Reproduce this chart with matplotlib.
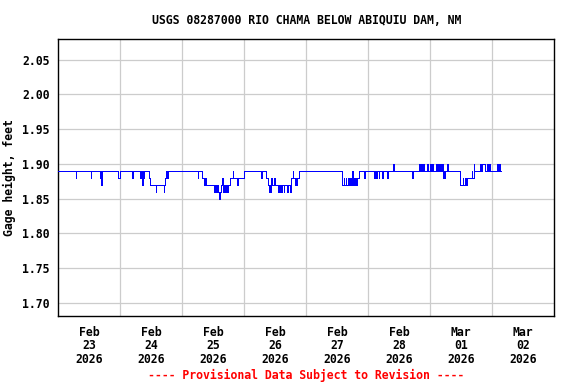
import matplotlib
matplotlib.use("Agg")
import matplotlib.pyplot as plt
import pandas as pd

# gage height, 15-min data, stored as change points (hours since Feb 23 00:00)
step_hours = [
    0, 6.75, 7.0, 12.5, 12.75, 16.0, 16.25, 16.5, 16.75, 17.0, 23.0, 23.75,
    28.5, 28.75, 31.75, 32.0, 32.5, 32.75, 33.0, 33.25,
    35.0, 35.5, 37.75, 38.0, 40.75, 41.0, 41.25, 41.75, 42.0, 42.5,
    54.0, 54.25, 55.75, 56.5, 56.75, 57.25,
    60.25, 60.5, 61.0, 61.25, 61.75, 62.25, 62.5, 63.0, 63.5, 63.75, 64.0, 64.25,
    64.5, 64.75, 65.25, 65.5, 65.75, 66.5, 67.5, 67.75, 69.0, 69.75, 72.0,
    78.5, 78.75, 80.5, 81.0, 81.5, 81.75, 82.0, 82.25, 82.5, 82.75, 83.5, 83.75,
    85.0, 85.25, 85.75, 86.0, 86.25, 86.5, 87.25, 87.5, 88.5, 88.75, 89.75, 90.0,
    90.25, 90.75, 91.0, 91.5, 91.75, 92.0, 92.25, 93.25,
    109.75, 110.0, 110.5, 110.75, 111.25, 111.5, 112.25, 112.5, 113.0, 113.25,
    113.75, 114.0, 114.5, 114.75, 115.0, 115.25, 115.75, 116.25, 118.5, 118.75,
    122.25, 122.5, 122.75, 123.0, 123.25, 123.5, 124.0, 124.25, 125.25, 125.5,
    127.25, 127.5, 129.75, 130.0, 137.0, 137.25,
    139.75, 140.0, 140.5, 140.75, 141.25, 141.5, 142.75, 143.0, 144.0, 144.25,
    144.75, 145.0, 146.25, 146.5, 147.0, 147.25, 147.75, 148.0, 148.5, 148.75,
    149.0, 149.25, 149.5, 149.75, 150.5, 150.75,
    155.5, 156.5, 156.75, 157.5, 157.75, 158.25, 160.0, 160.25, 160.75, 161.0,
    163.25, 163.75, 164.0, 165.25, 166.0, 166.25, 166.75, 167.0,
    170.0, 170.25, 170.75, 171.0, 171.25,
]
gage_ft = [
    1.89, 1.88, 1.89, 1.88, 1.89, 1.88, 1.89, 1.87, 1.88, 1.89, 1.88, 1.89,
    1.88, 1.89, 1.88, 1.89, 1.87, 1.89, 1.88, 1.89,
    1.88, 1.87, 1.86, 1.87, 1.86, 1.87, 1.88, 1.89, 1.88, 1.89,
    1.88, 1.89, 1.88, 1.87, 1.88, 1.87,
    1.86, 1.87, 1.86, 1.87, 1.86, 1.85, 1.86, 1.87, 1.88, 1.86, 1.87, 1.86,
    1.87, 1.86, 1.87, 1.86, 1.87, 1.88, 1.89, 1.88, 1.87, 1.88, 1.89,
    1.88, 1.89, 1.88, 1.87, 1.86, 1.87, 1.86, 1.87, 1.88, 1.87, 1.88, 1.87,
    1.86, 1.87, 1.86, 1.87, 1.86, 1.87, 1.86, 1.87, 1.86, 1.87, 1.86, 1.87,
    1.88, 1.89, 1.88, 1.87, 1.88, 1.87, 1.88, 1.89,
    1.88, 1.87, 1.88, 1.87, 1.88, 1.87, 1.88, 1.87, 1.88, 1.87,
    1.89, 1.87, 1.88, 1.87, 1.88, 1.87, 1.88, 1.89, 1.88, 1.89,
    1.88, 1.89, 1.88, 1.89, 1.88, 1.89, 1.88, 1.89, 1.88, 1.89,
    1.88, 1.89, 1.90, 1.89, 1.88, 1.89,
    1.90, 1.89, 1.90, 1.89, 1.90, 1.89, 1.90, 1.89, 1.90, 1.89,
    1.90, 1.89, 1.90, 1.89, 1.90, 1.89, 1.90, 1.89, 1.90, 1.89,
    1.88, 1.89, 1.88, 1.89, 1.90, 1.89,
    1.87, 1.88, 1.87, 1.88, 1.87, 1.88, 1.89, 1.88, 1.90, 1.89,
    1.90, 1.89, 1.90, 1.89, 1.90, 1.89, 1.90, 1.89,
    1.90, 1.89, 1.90, 1.89, 1.89,
]

start = pd.Timestamp("2026-02-23 00:00")
n_days = 8
y_ticks = [1.70, 1.75, 1.80, 1.85, 1.90, 1.95, 2.00, 2.05]
x_labels = ["Feb\n23\n2026", "Feb\n24\n2026", "Feb\n25\n2026", "Feb\n26\n2026",
            "Feb\n27\n2026", "Feb\n28\n2026", "Mar\n01\n2026", "Mar\n02\n2026"]
title = "USGS 08287000 RIO CHAMA BELOW ABIQUIU DAM, NM"
footer = "---- Provisional Data Subject to Revision ----"

plt.rcParams["font.family"] = "DejaVu Sans Mono"
plt.rcParams["font.weight"] = "bold"
fs = 8.3

times = start + pd.to_timedelta(step_hours, unit="h")
midnights = [start + pd.Timedelta(days=i) for i in range(n_days + 1)]
noons = [d + pd.Timedelta(hours=12) for d in midnights[:-1]]

fig = plt.figure(figsize=(5.76, 3.84), dpi=100)
ax = fig.add_axes([58.3 / 576, 1 - 316 / 384, 496 / 576, 276.7 / 384])

# 1 px line, no smoothing, like the USGS gif
ax.step(times, gage_ft, where="post", color="#0000ff", lw=0.72,
        antialiased=False, zorder=3)

ax.set_xlim(midnights[0], midnights[-1])
ax.set_ylim(1.6808, 2.0794)
ax.set_yticks(y_ticks)
ax.set_yticklabels([f"{v:.2f}" for v in y_ticks], fontsize=fs, fontweight="bold")
ax.set_xticks(midnights[1:-1])
ax.set_xticklabels([])
ax.set_xticks(noons, minor=True)
ax.set_xticklabels(x_labels, minor=True, fontsize=fs, fontweight="bold", linespacing=1.05)
ax.tick_params(axis="both", which="both", length=0)
ax.tick_params(axis="y", pad=6)
ax.tick_params(axis="x", which="minor", pad=7)

ax.grid(True, which="major", color="#cccccc", lw=0.9)
ax.set_axisbelow(True)
for s in ax.spines.values():
    s.set_linewidth(1.0)
    s.set_color("black")

ax.set_ylabel("Gage height, feet", fontsize=fs, fontweight="bold", labelpad=5)

fig.text(306.3 / 576, 1 - 20 / 384, title, ha="center", va="center",
         fontsize=fs, fontweight="bold")
fig.text(306 / 576, 1 - 375 / 384, footer, ha="center", va="center",
         fontsize=fs, fontweight="bold", color="red")

fig.savefig("out.png", dpi=100)
